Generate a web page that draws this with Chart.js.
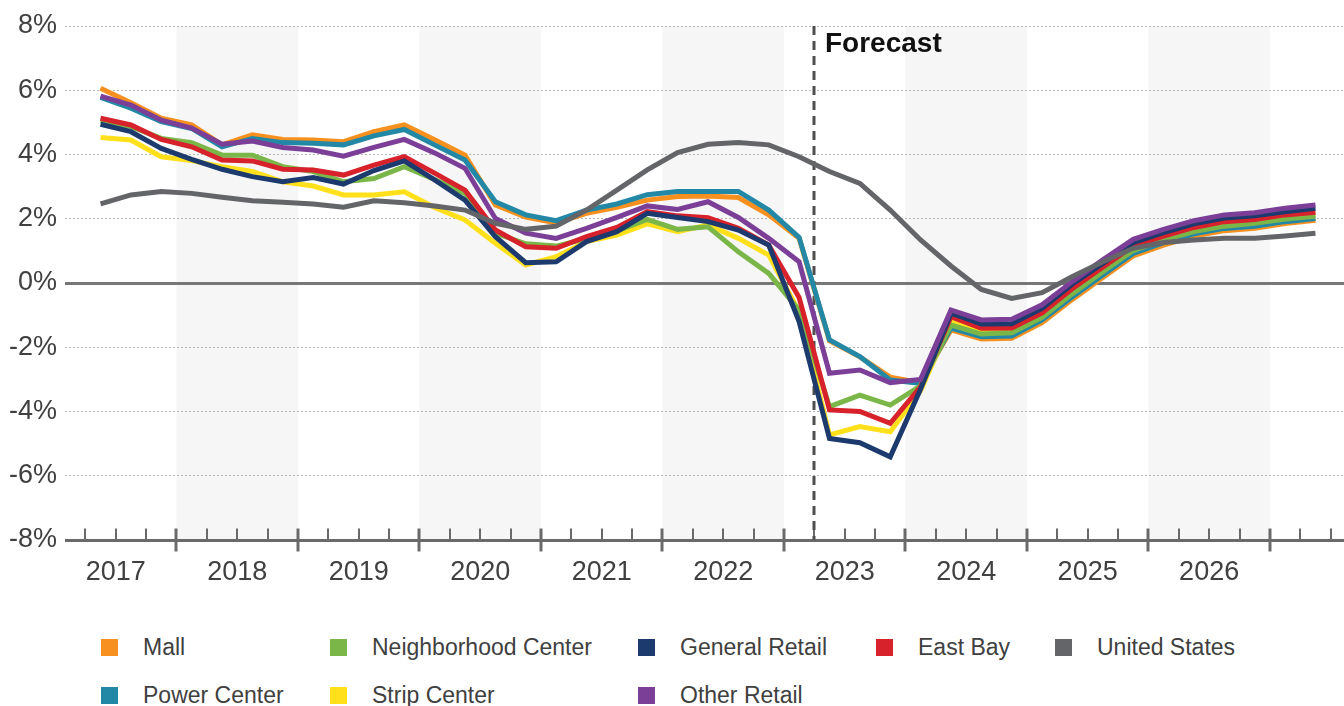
<!DOCTYPE html>
<html>
<head>
<meta charset="utf-8">
<script src="https://cdn.jsdelivr.net/npm/chart.js@4.4.1/dist/chart.umd.min.js"></script>
<style>
  html, body { margin: 0; padding: 0; background: #fff; }
  #wrap { position: relative; width: 1344px; height: 706px; overflow: hidden; font-family: "Liberation Sans", Arial, sans-serif; }
  #chartBox { position: absolute; left: 0; top: 0; width: 1344px; height: 600px; }
  .lg { position: absolute; display: flex; align-items: center; font-size: 23px; color: #404040; white-space: nowrap; }
  .lg i { display: inline-block; width: 17px; height: 17px; margin-right: 25px; }
</style>
</head>
<body>
<div id="wrap">
  <div id="chartBox"><canvas id="rentChart"></canvas></div>
  <div id="legend"></div>
</div>
<script>
// tick labels, one per year band
const years = ['2017', '2018', '2019', '2020', '2021', '2022', '2023', '2024', '2025', '2026'];
// quarter (counted from start of 2017) where the forecast begins
const forecastStart = 25;

// 41 quarterly readings, first one sits 1.5 quarters into 2017
const mall = [6.06, 5.61, 5.13, 4.92, 4.30, 4.61, 4.47, 4.45, 4.40, 4.71, 4.92, 4.46, 3.98, 2.43, 2.05, 1.87, 2.17, 2.36, 2.58, 2.69, 2.71, 2.66, 2.12, 1.39, -1.80, -2.30, -2.93, -3.10, -1.46, -1.74, -1.72, -1.23, -0.51, 0.17, 0.84, 1.18, 1.46, 1.63, 1.70, 1.85, 1.95];
const powerCenter = [5.78, 5.44, 5.02, 4.81, 4.24, 4.50, 4.37, 4.35, 4.30, 4.58, 4.78, 4.30, 3.83, 2.53, 2.12, 1.94, 2.27, 2.46, 2.75, 2.85, 2.85, 2.85, 2.27, 1.42, -1.77, -2.29, -3.02, -3.12, -1.40, -1.67, -1.65, -1.15, -0.43, 0.25, 0.92, 1.26, 1.53, 1.70, 1.77, 1.91, 2.01];
const neighborhood = [5.05, 4.87, 4.50, 4.37, 3.98, 3.98, 3.62, 3.47, 3.15, 3.25, 3.62, 3.22, 2.79, 1.55, 1.22, 1.15, 1.38, 1.62, 1.98, 1.67, 1.75, 0.97, 0.30, -0.85, -3.85, -3.49, -3.80, -3.20, -1.31, -1.59, -1.55, -1.07, -0.33, 0.35, 1.01, 1.34, 1.60, 1.77, 1.86, 1.99, 2.08];
const strip = [4.53, 4.45, 3.93, 3.81, 3.62, 3.47, 3.15, 3.02, 2.74, 2.74, 2.84, 2.35, 1.96, 1.24, 0.56, 0.82, 1.29, 1.49, 1.84, 1.60, 1.81, 1.39, 0.87, -0.90, -4.73, -4.47, -4.63, -3.35, -1.20, -1.50, -1.48, -1.00, -0.25, 0.42, 1.08, 1.40, 1.66, 1.84, 1.92, 2.05, 2.14];
const generalRetail = [4.94, 4.71, 4.19, 3.85, 3.54, 3.31, 3.15, 3.28, 3.08, 3.50, 3.80, 3.21, 2.58, 1.44, 0.63, 0.66, 1.29, 1.60, 2.17, 2.04, 1.91, 1.65, 1.18, -1.20, -4.84, -4.97, -5.41, -3.30, -0.94, -1.28, -1.27, -0.79, -0.03, 0.61, 1.26, 1.57, 1.84, 2.02, 2.09, 2.22, 2.33];
const otherRetail = [5.82, 5.54, 5.07, 4.82, 4.32, 4.42, 4.22, 4.14, 3.95, 4.22, 4.47, 4.05, 3.57, 2.01, 1.55, 1.39, 1.70, 2.04, 2.40, 2.29, 2.53, 2.04, 1.39, 0.66, -2.81, -2.71, -3.10, -3.00, -0.84, -1.15, -1.13, -0.68, 0.05, 0.72, 1.36, 1.67, 1.94, 2.12, 2.19, 2.33, 2.43];
const eastBay = [5.13, 4.92, 4.47, 4.24, 3.83, 3.80, 3.54, 3.52, 3.36, 3.67, 3.93, 3.42, 2.89, 1.65, 1.13, 1.08, 1.44, 1.73, 2.22, 2.09, 2.03, 1.70, 1.18, -0.45, -3.95, -4.00, -4.37, -3.23, -1.05, -1.41, -1.40, -0.93, -0.17, 0.49, 1.15, 1.46, 1.73, 1.91, 1.98, 2.12, 2.20];
const unitedStates = [2.46, 2.74, 2.85, 2.79, 2.67, 2.56, 2.51, 2.46, 2.36, 2.56, 2.50, 2.40, 2.27, 1.86, 1.67, 1.77, 2.27, 2.89, 3.52, 4.06, 4.32, 4.37, 4.30, 3.93, 3.47, 3.10, 2.27, 1.34, 0.53, -0.20, -0.48, -0.30, 0.20, 0.66, 1.08, 1.26, 1.34, 1.39, 1.39, 1.46, 1.55];

const FONT = '"Liberation Sans", Arial, sans-serif';

// legend placement: [label, values, colour, column, row, draw order]
const seriesDefs = [
  ['Mall', mall, '#f7901e', 101, 0, 7],
  ['Neighborhood Center', neighborhood, '#7ab648', 330, 0, 4],
  ['General Retail', generalRetail, '#1d3a6e', 638, 0, 2],
  ['East Bay', eastBay, '#d7212b', 876, 0, 3],
  ['United States', unitedStates, '#646569', 1055, 0, 0],
  ['Power Center', powerCenter, '#2388a6', 101, 1, 6],
  ['Strip Center', strip, '#ffe01b', 330, 1, 5],
  ['Other Retail', otherRetail, '#7b3f98', 638, 1, 1],
];

function toPoints(values) {
  return values.map((v, k) => ({ x: k + 1.5, y: v }));
}

const decorPlugin = {
  id: 'decor',
  beforeDraw(chart) {
    const { ctx, chartArea: a, scales: { x } } = chart;
    ctx.save();
    ctx.fillStyle = '#f6f6f6';
    years.forEach((y, i) => {
      if (i % 2 === 0) return;
      const l = Math.max(a.left, x.getPixelForValue(i * 4));
      const r = Math.min(a.right, x.getPixelForValue(i * 4 + 4));
      ctx.fillRect(l, a.top, r - l, a.bottom - a.top);
    });
    ctx.restore();
  },
  beforeDatasetsDraw(chart) {
    const { ctx, chartArea: a, scales: { x, y } } = chart;
    ctx.save();
    ctx.strokeStyle = '#777';
    ctx.lineWidth = 3;
    const y0 = Math.round(y.getPixelForValue(0)) + 0.5;
    ctx.beginPath(); ctx.moveTo(a.left, y0); ctx.lineTo(a.right, y0); ctx.stroke();

    // bottom axis with quarter ticks
    const yb = Math.round(a.bottom) + 0.5;
    ctx.strokeStyle = '#6a6a6a';
    ctx.beginPath(); ctx.moveTo(a.left, yb); ctx.lineTo(a.right, yb); ctx.stroke();
    for (let q = 0; q <= 44; q++) {
      const px = Math.round(x.getPixelForValue(q));
      if (px < a.left || px > a.right) continue;
      ctx.beginPath();
      if (q % 4 === 0) {
        ctx.lineWidth = 3;
        ctx.moveTo(px, yb - 12); ctx.lineTo(px, yb + 11);
      } else {
        ctx.lineWidth = 2;
        ctx.moveTo(px, yb - 12); ctx.lineTo(px, yb);
      }
      ctx.stroke();
    }

    // forecast marker
    const fx = Math.round(x.getPixelForValue(forecastStart));
    ctx.strokeStyle = '#4f4f4f';
    ctx.lineWidth = 3;
    ctx.setLineDash([9, 6]);
    ctx.beginPath(); ctx.moveTo(fx, a.top); ctx.lineTo(fx, a.bottom); ctx.stroke();
    ctx.setLineDash([]);
    ctx.fillStyle = '#111';
    ctx.font = `bold 28px ${FONT}`;
    ctx.textBaseline = 'alphabetic';
    ctx.fillText('Forecast', fx + 11, a.top + 26);
    ctx.restore();
  },
};

const chart = new Chart(document.getElementById('rentChart'), {
  type: 'line',
  data: {
    datasets: seriesDefs.map(([label, values, color, , , order]) => ({
      label,
      data: toPoints(values),
      borderColor: color,
      backgroundColor: color,
      borderWidth: 5,
      pointRadius: 0,
      tension: 0,
      order,
    })),
  },
  options: {
    responsive: true,
    maintainAspectRatio: false,
    animation: false,
    layout: { padding: { top: 26, left: 0, right: 0, bottom: 0 } },
    plugins: { legend: { display: false }, tooltip: { enabled: false } },
    scales: {
      x: {
        type: 'linear',
        min: 0.33,
        max: 42.44,
        afterBuildTicks: (scale) => { scale.ticks = years.map((_, i) => ({ value: i * 4 + 2 })); },
        afterFit: (scale) => { scale.height = 60; scale.paddingLeft = 0; scale.paddingRight = 0; },
        ticks: {
          autoSkip: false,
          maxRotation: 0,
          padding: 16,
          color: '#404040',
          font: { family: FONT, size: 27 },
          callback: (v, i) => years[i],
        },
        grid: { display: false, drawTicks: false },
        border: { display: false },
      },
      y: {
        min: -8,
        max: 8,
        afterFit: (scale) => { scale.width = 65; scale.paddingTop = 0; scale.paddingBottom = 0; },
        ticks: {
          stepSize: 2,
          padding: 8,
          color: '#404040',
          font: { family: FONT, size: 27 },
          callback: (v) => `${v}%`,
        },
        grid: { color: '#b5b5b5', lineWidth: 1, drawTicks: false },
        border: { display: false, dash: [2, 2] },
      },
    },
  },
  plugins: [decorPlugin],
});

document.getElementById('legend').innerHTML = seriesDefs.map(([label, , color, left, row]) => `
  <div class="lg" style="left:${left}px; top:${row === 0 ? 634 : 682}px; height:26px;">
    <i style="background:${color}"></i><span>${label}</span>
  </div>
`).join('');
</script>
</body>
</html>
